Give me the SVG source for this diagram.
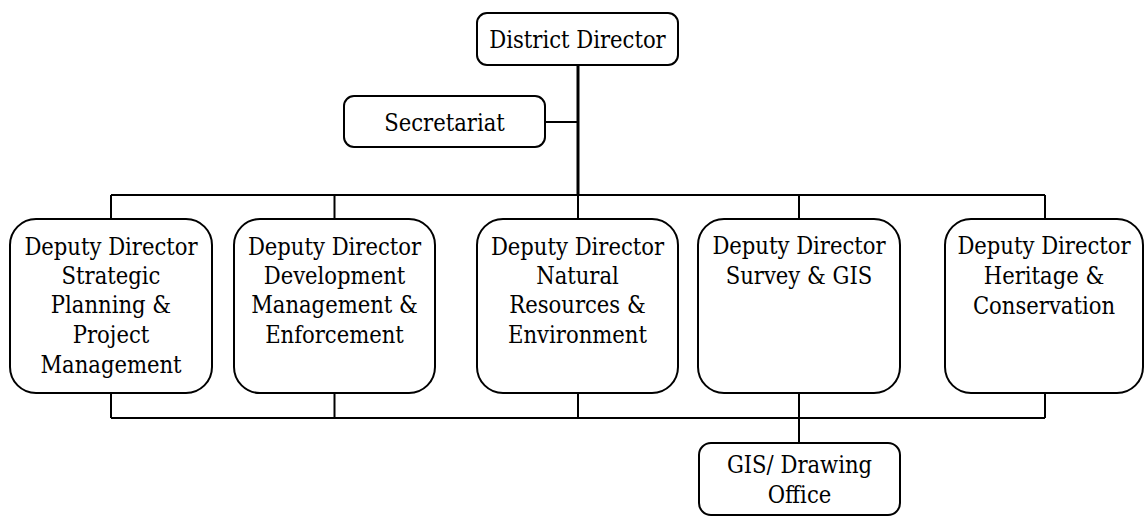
<svg xmlns="http://www.w3.org/2000/svg" width="1145" height="517" viewBox="0 0 1145 517">
  <style>
    .box { fill: #ffffff; stroke: #000000; stroke-width: 2; }
    .lbl { font-family: 'DejaVu Serif Condensed', 'DejaVu Serif', serif; font-stretch: condensed; font-size: 23.5px; fill: #000000; text-anchor: middle; }
    .wire { fill: none; stroke: #000000; stroke-width: 2; }
    .trunk { fill: none; stroke: #000000; stroke-width: 3; }
  </style>
  <rect x="0" y="0" width="1145" height="517" fill="#ffffff"/>

  <g id="connectors">
    <line class="trunk" x1="578" y1="65" x2="578" y2="195"/>
    <line class="wire" x1="545" y1="122" x2="578" y2="122"/>
    <line class="wire" x1="111" y1="195" x2="1045" y2="195"/>
    <line class="wire" x1="111" y1="195" x2="111" y2="219"/>
    <line class="wire" x1="334.5" y1="195" x2="334.5" y2="219"/>
    <line class="wire" x1="578" y1="195" x2="578" y2="219"/>
    <line class="wire" x1="799" y1="195" x2="799" y2="219"/>
    <line class="wire" x1="1045" y1="195" x2="1045" y2="219"/>
    <line class="wire" x1="111" y1="393" x2="111" y2="418"/>
    <line class="wire" x1="334.5" y1="393" x2="334.5" y2="418"/>
    <line class="wire" x1="578" y1="393" x2="578" y2="418"/>
    <line class="wire" x1="799" y1="393" x2="799" y2="443"/>
    <line class="wire" x1="1045" y1="393" x2="1045" y2="418"/>
    <line class="wire" x1="111" y1="418" x2="1045" y2="418"/>
  </g>

  <g id="district-director">
    <rect class="box" x="477" y="13" width="201" height="52" rx="10"/>
    <text class="lbl" x="577.5" y="48">District Director</text>
  </g>

  <g id="secretariat">
    <rect class="box" x="344" y="96" width="201" height="51" rx="10"/>
    <text class="lbl" x="444.5" y="131">Secretariat</text>
  </g>

  <g id="dd-strategic-planning">
    <rect class="box" x="10" y="219" width="202" height="174" rx="26"/>
    <text class="lbl" x="111" y="255">Deputy Director</text>
    <text class="lbl" x="111" y="284">Strategic</text>
    <text class="lbl" x="111" y="313">Planning &amp;</text>
    <text class="lbl" x="111" y="343">Project</text>
    <text class="lbl" x="111" y="373">Management</text>
  </g>

  <g id="dd-development-management">
    <rect class="box" x="234" y="219" width="201" height="174" rx="26"/>
    <text class="lbl" x="334.5" y="255">Deputy Director</text>
    <text class="lbl" x="334.5" y="284">Development</text>
    <text class="lbl" x="334.5" y="313">Management &amp;</text>
    <text class="lbl" x="334.5" y="343">Enforcement</text>
  </g>

  <g id="dd-natural-resources">
    <rect class="box" x="477" y="219" width="201" height="174" rx="26"/>
    <text class="lbl" x="577.5" y="255">Deputy Director</text>
    <text class="lbl" x="577.5" y="284">Natural</text>
    <text class="lbl" x="577.5" y="313">Resources &amp;</text>
    <text class="lbl" x="577.5" y="343">Environment</text>
  </g>

  <g id="dd-survey-gis">
    <rect class="box" x="698" y="219" width="202" height="174" rx="26"/>
    <text class="lbl" x="799" y="254">Deputy Director</text>
    <text class="lbl" x="799" y="284">Survey &amp; GIS</text>
  </g>

  <g id="dd-heritage-conservation">
    <rect class="box" x="945" y="219" width="198" height="174" rx="26"/>
    <text class="lbl" x="1044" y="254">Deputy Director</text>
    <text class="lbl" x="1044" y="284">Heritage &amp;</text>
    <text class="lbl" x="1044" y="314">Conservation</text>
  </g>

  <g id="gis-drawing-office">
    <rect class="box" x="699" y="443" width="201" height="72" rx="12"/>
    <text class="lbl" x="799.5" y="473">GIS/ Drawing</text>
    <text class="lbl" x="799.5" y="503">Office</text>
  </g>
</svg>
